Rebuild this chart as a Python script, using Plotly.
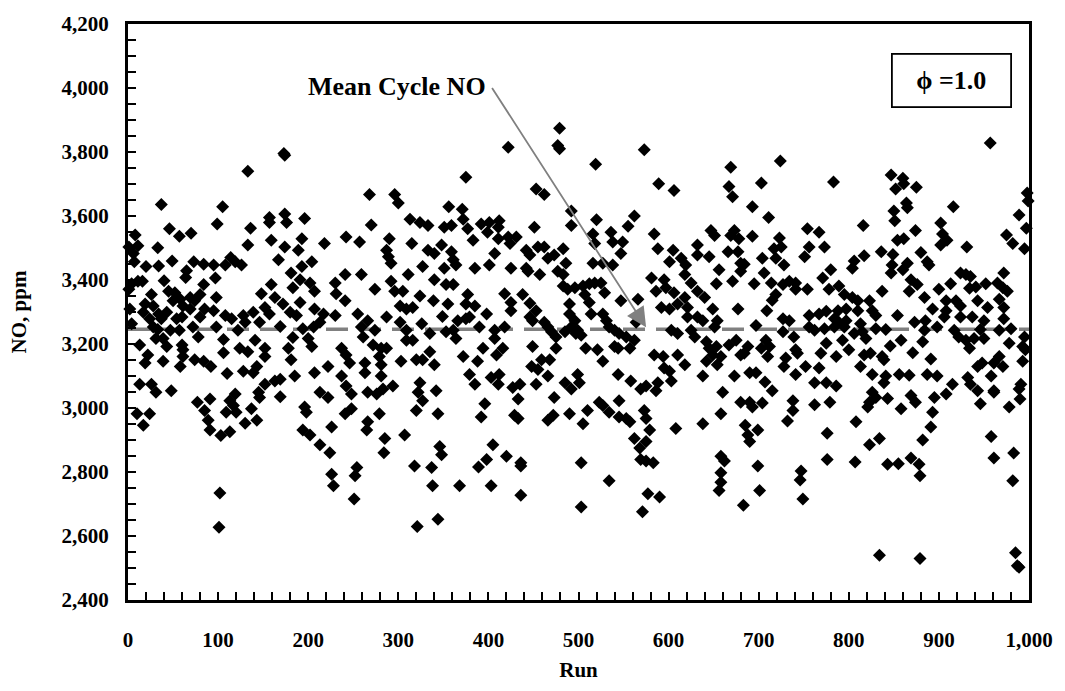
import plotly.graph_objects as go

# NO concentration (ppm) per engine run, grouped in blocks along the run axis
run_a = [37,46,57,70,8,1,11,33,6,7,20,34,49,73,65,40,11,16,4,1,64,45,52,26,69,74,50,58,61,2,19,28,43,34,17,69,60,54,24,4,37,28,72,33,47,57,78,31,39,13,43,60,61,22,61,19,39,74,58,13,26,31,48,77,10,24,17]
no_a = [3636,3560,3537,3546,3541,3503,3507,3501,3483,3457,3442,3444,3459,3457,3429,3398,3396,3396,3388,3371,3408,3365,3360,3355,3345,3335,3335,3340,3319,3309,3325,3319,3299,3294,3299,3309,3284,3279,3279,3263,3279,3253,3253,3245,3243,3243,3222,3217,3217,3197,3192,3197,3182,3166,3161,3141,3146,3151,3130,3074,3074,3049,3054,3018,2982,2982,2946]

run_b = [133,105,99,136,133,157,157,159,84,95,108,114,119,126,97,84,80,98,148,159,85,95,80,108,115,128,139,152,157,130,146,98,122,106,141,106,124,133,152,152,84,92,110,128,139,143,152,145,119,91,113,117,146,85,109,120,137,89,130,143,91,103,113,102,101,163]
no_b = [3740,3629,3575,3562,3509,3595,3580,3524,3449,3447,3447,3470,3457,3447,3406,3386,3355,3345,3357,3386,3309,3304,3284,3289,3279,3289,3299,3314,3294,3268,3268,3253,3243,3214,3212,3173,3187,3176,3187,3161,3146,3130,3108,3115,3110,3130,3074,3049,3044,3028,3023,3008,3033,2992,2987,2987,2998,2962,2952,2962,2931,2914,2926,2734,2627,3084]

run_c = [173,174,176,196,174,193,218,242,167,189,193,204,181,191,202,207,183,230,241,231,241,163,172,191,207,217,230,180,187,169,194,206,213,183,200,204,178,237,242,181,222,207,237,185,169,213,222,242,169,196,198,241,226,194,202,213,224,226,228,174]
no_c = [3795,3606,3580,3592,3503,3529,3514,3534,3463,3493,3442,3457,3422,3401,3391,3365,3376,3391,3417,3357,3335,3345,3325,3330,3309,3294,3289,3299,3289,3255,3248,3253,3268,3220,3217,3192,3187,3187,3166,3151,3130,3110,3100,3100,3090,3049,3033,3069,3035,3003,2987,2982,2941,2931,2916,2885,2860,2793,2757,3790]

run_d = [268,296,300,270,313,324,257,290,315,287,289,292,327,259,311,274,292,296,305,324,302,309,316,255,287,266,326,302,259,274,309,261,272,281,287,309,316,246,263,279,281,303,320,327,263,281,294,248,266,276,283,322,324,327,248,320,279,266,265,307,285,284,254,252,318,251,321]
no_d = [3667,3667,3641,3572,3590,3580,3519,3529,3514,3493,3473,3452,3442,3417,3417,3371,3396,3365,3365,3350,3319,3309,3314,3294,3284,3273,3263,3268,3253,3243,3243,3222,3197,3187,3187,3212,3212,3141,3141,3161,3135,3146,3151,3151,3110,3100,3069,3044,3049,3044,3059,3049,3079,3023,2998,2992,2982,2957,2931,2916,2905,2860,2814,2788,2819,2716,2630]

run_e = [375,356,371,372,333,351,359,377,383,392,399,401,411,411,333,340,348,359,361,364,351,385,401,407,340,353,361,377,339,355,375,385,398,349,366,375,379,335,353,361,364,390,407,407,335,340,372,388,394,409,379,385,403,411,342,344,396,392,346,348,405,398,389,337,338,368,403,344]
no_e = [3721,3629,3621,3590,3570,3565,3570,3560,3524,3575,3549,3580,3565,3529,3493,3483,3509,3488,3463,3447,3437,3437,3447,3483,3401,3386,3386,3355,3335,3325,3325,3319,3294,3286,3273,3279,3284,3233,3238,3243,3217,3253,3243,3217,3176,3135,3161,3146,3187,3166,3105,3074,3095,3074,3054,2982,3013,2972,2880,2854,2885,2839,2816,2814,2757,2757,2757,2652]

run_f = [479,477,479,422,453,462,492,412,451,492,422,431,424,442,446,455,462,466,473,483,486,425,442,444,457,477,483,483,488,418,425,425,438,446,453,446,449,490,490,492,418,462,466,470,475,485,416,449,475,459,468,448,455,466,412,427,435,453,485,492,433,473,429,433,466,472,490,420,436,436,436]
no_f = [3874,3820,3810,3815,3684,3667,3616,3585,3565,3570,3534,3534,3514,3493,3478,3503,3503,3468,3478,3498,3452,3437,3437,3427,3417,3427,3417,3381,3371,3357,3330,3304,3355,3327,3304,3284,3273,3325,3294,3253,3253,3268,3253,3238,3222,3238,3187,3192,3187,3151,3151,3130,3120,3100,3105,3064,3074,3074,3079,3059,3028,3033,2977,2967,2962,2977,2982,2849,2829,2819,2727]

run_g = [573,519,520,562,555,516,536,538,549,518,547,516,527,538,525,512,518,505,496,507,529,547,566,512,496,514,527,531,564,499,497,503,534,540,545,553,562,508,521,540,544,557,527,499,501,544,558,569,575,545,510,523,527,534,545,553,557,505,573,575,562,568,575,569,503,534,577,503,571]
no_g = [3807,3762,3588,3600,3568,3544,3549,3519,3519,3514,3483,3452,3452,3447,3391,3388,3391,3381,3376,3355,3360,3335,3340,3330,3273,3294,3294,3273,3268,3243,3233,3227,3253,3243,3233,3222,3212,3187,3182,3192,3187,3187,3146,3105,3079,3105,3084,3059,3069,3023,2992,3018,3008,2987,2972,2967,2957,2951,2992,2967,2905,2875,2895,2839,2829,2773,2732,2691,2676]

run_h = [589,606,584,588,647,651,632,632,605,601,614,619,645,656,618,625,581,595,586,597,606,632,640,653,618,592,601,610,621,649,621,632,638,654,651,603,610,625,629,642,645,653,649,642,654,584,594,610,618,595,601,603,588,638,586,660,658,638,608,579,575,583,658,658,590,656,658]
no_h = [3701,3680,3544,3498,3555,3539,3509,3478,3493,3457,3468,3447,3473,3432,3417,3391,3406,3401,3365,3376,3360,3365,3345,3388,3345,3314,3309,3325,3314,3309,3284,3284,3273,3273,3253,3243,3233,3243,3222,3207,3187,3192,3166,3146,3135,3166,3161,3166,3135,3125,3115,3084,3079,3100,3054,3049,2982,2951,2936,2931,2834,2829,2849,2798,2722,2742,2768]

run_i = [724,669,703,667,671,693,711,673,669,678,693,723,717,725,666,677,719,704,680,684,728,680,706,671,695,714,727,734,741,719,715,677,709,727,734,697,727,739,675,667,688,680,684,703,708,712,710,730,741,658,728,741,673,690,697,707,715,680,690,693,704,738,738,732,685,688,690,699,662,699,701,683]
no_i = [3772,3752,3703,3692,3660,3629,3595,3555,3539,3529,3537,3531,3498,3503,3488,3488,3468,3468,3452,3449,3447,3427,3422,3396,3388,3391,3386,3396,3371,3355,3337,3309,3304,3279,3273,3258,3238,3222,3212,3197,3192,3166,3171,3187,3212,3192,3161,3156,3182,3161,3130,3105,3100,3110,3110,3081,3054,3018,3018,3003,3016,3023,2992,2959,2946,2916,2895,2931,2834,2819,2742,2696]

run_j = [783,816,754,767,756,773,751,806,817,804,780,771,741,754,778,789,795,804,810,823,826,756,767,775,788,797,810,784,789,797,813,762,756,773,784,795,806,815,819,793,800,775,769,786,743,817,813,826,752,767,762,775,786,762,779,823,821,808,776,823,776,807,747,746,749]
no_j = [3706,3570,3560,3549,3503,3503,3473,3459,3476,3437,3432,3406,3391,3371,3371,3381,3355,3345,3335,3335,3304,3289,3294,3302,3304,3309,3304,3279,3268,3273,3263,3243,3253,3248,3253,3253,3233,3238,3217,3212,3182,3202,3171,3161,3171,3166,3130,3105,3130,3125,3079,3079,3069,3010,3018,3018,3003,2957,2921,2885,2839,2831,2803,2775,2716]

run_k = [847,860,852,861,875,864,865,850,851,874,902,904,902,909,854,861,836,849,880,887,889,848,860,865,847,869,876,867,884,900,837,830,854,893,908,908,873,885,898,906,830,841,884,858,882,846,871,824,837,839,891,841,856,867,887,898,839,826,830,843,869,874,858,895,908,893,891,882,834,843,855,869,878,879,834,879]
no_k = [3728,3718,3684,3701,3690,3641,3626,3616,3585,3555,3578,3544,3509,3524,3524,3529,3488,3480,3486,3457,3447,3447,3432,3452,3422,3401,3386,3365,3345,3371,3365,3289,3289,3309,3335,3304,3268,3273,3253,3284,3248,3245,3243,3212,3207,3194,3173,3171,3161,3151,3153,3100,3105,3102,3105,3100,3079,3049,3033,3030,3039,3018,2998,3033,3044,2987,2941,2900,2905,2824,2826,2844,2824,2788,2540,2530]

run_l = [957,916,989,998,999,997,931,975,982,995,924,930,935,913,934,941,952,965,972,971,976,919,924,943,954,967,972,924,937,950,972,917,946,967,980,995,922,930,939,950,978,934,993,996,948,961,967,971,993,943,932,958,915,935,943,961,961,989,946,978,991,990,958,961,983,982,985,987,989]
no_l = [3828,3629,3603,3672,3647,3562,3503,3541,3514,3498,3422,3417,3411,3388,3374,3378,3388,3391,3422,3376,3365,3335,3319,3335,3314,3340,3314,3284,3284,3273,3279,3243,3245,3243,3248,3222,3222,3212,3217,3217,3202,3187,3192,3182,3141,3141,3161,3130,3146,3130,3095,3100,3074,3074,3054,3054,3049,3059,3013,3003,3074,3028,2911,2844,2859,2773,2548,2507,2502]

mean_no = 3246          # mean cycle NO, ppm
run_span = [0, 1000]
no_span = [2400, 4200]
phi_label = "ϕ =1.0"

runs = run_a + run_b + run_c + run_d + run_e + run_f + run_g + run_h + run_i + run_j + run_k + run_l
no_ppm = no_a + no_b + no_c + no_d + no_e + no_f + no_g + no_h + no_i + no_j + no_k + no_l

SERIF = "Liberation Serif, Times New Roman, serif"

fig = go.Figure()

# dashed mean line across the whole run range
fig.add_trace(go.Scatter(
    x=run_span, y=[mean_no, mean_no], mode="lines",
    line=dict(color="#808080", width=3.5, dash="22px,11px"),
    hoverinfo="skip", showlegend=False,
))

fig.add_trace(go.Scatter(
    x=runs, y=no_ppm, mode="markers",
    marker=dict(symbol="diamond", size=10, color="black", line=dict(width=0)),
    cliponaxis=False, showlegend=False,
))

axis_common = dict(
    showline=True, linecolor="black", linewidth=3, mirror=True,
    showgrid=False, zeroline=False,
    ticks="inside", ticklen=8, tickwidth=2, tickcolor="black",
    tickfont=dict(family=SERIF, size=21, color="black"),
    tickformat=",d",
)

fig.update_xaxes(
    range=run_span, dtick=100, tick0=0,
    minor=dict(dtick=20, ticks="inside", ticklen=8, tickwidth=2, tickcolor="black"),
    title=dict(text="<b>Run</b>", font=dict(family=SERIF, size=21, color="black"), standoff=12),
    ticklabelstandoff=19,
    **axis_common,
)
fig.update_yaxes(
    range=no_span, dtick=200, tick0=2400,
    minor=dict(dtick=50, ticks="inside", ticklen=8, tickwidth=2, tickcolor="black"),
    title=dict(text="<b>NO, ppm</b>", font=dict(family=SERIF, size=21, color="black"), standoff=30),
    ticklabelstandoff=12,
    **axis_common,
)

# bold tick labels
fig.update_xaxes(tickprefix="<b>", ticksuffix="</b>")
fig.update_yaxes(tickprefix="<b>", ticksuffix="</b>")

# callout pointing at the mean line
fig.add_annotation(
    x=575, y=mean_no + 6, ax=403, ay=4005, axref="x", ayref="y",
    xref="x", yref="y", text="", showarrow=True,
    arrowcolor="#808080", arrowwidth=1.8, arrowhead=2, arrowsize=2.2,
)
fig.add_annotation(
    x=399, y=4005, xref="x", yref="y", text="<b>Mean Cycle NO</b>",
    showarrow=False, xanchor="right", yanchor="middle",
    font=dict(family=SERIF, size=26, color="black"),
)

# equivalence-ratio label box
fig.add_annotation(
    x=(952.5 - 128) / 902, y=(605 - 74) / 589, xref="paper", yref="paper",
    xanchor="center", yanchor="middle",
    text="<b>" + phi_label + "</b>", showarrow=False,
    width=117, height=51, align="center", valign="middle",
    bordercolor="black", borderwidth=1.8, borderpad=0, bgcolor="white",
    font=dict(family=SERIF, size=26, color="black"),
)

fig.update_layout(
    width=1065, height=691,
    margin=dict(l=128, r=35, t=16, b=86),
    paper_bgcolor="white", plot_bgcolor="white",
    showlegend=False,
)

fig.write_html("out.html")
